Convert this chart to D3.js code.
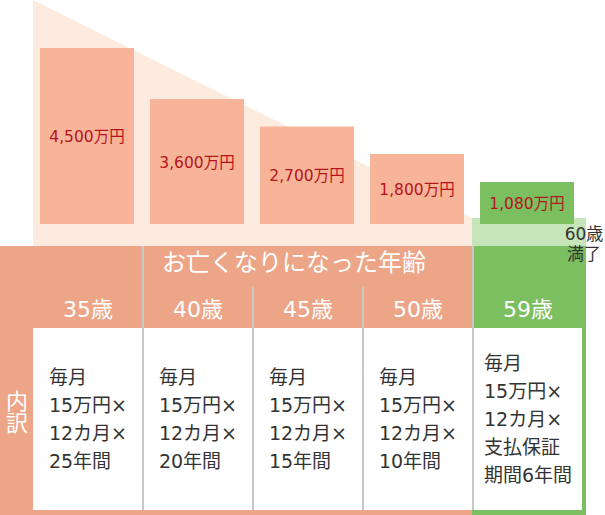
<!DOCTYPE html>
<meta charset="utf-8">
<script src="https://d3js.org/d3.v7.min.js"></script>
<style>
  body { margin: 0; background: #fff; }
  text { font-family: "DejaVu Sans", "Noto Sans CJK JP", sans-serif; }
</style>
<body>
<div id="chart"></div>
<script>
// data
var ages = ["35歳", "40歳", "45歳", "50歳", "59歳"];
var amounts = [4500, 3600, 2700, 1800, 1080];
var unit = "万円";
var details = [
  ["毎月", "15万円×", "12カ月×", "25年間"],
  ["毎月", "15万円×", "12カ月×", "20年間"],
  ["毎月", "15万円×", "12カ月×", "15年間"],
  ["毎月", "15万円×", "12カ月×", "10年間"],
  ["毎月", "15万円×", "12カ月×", "支払保証", "期間6年間"]
];
var title = "お亡くなりになった年齢";
var sideLabel = "内訳";
var endLabel = ["60歳", "満了"];

var width = 605, height = 515;
var salmon = "#eda588", barColor = "#f7b498", peach = "#fdebe0",
    green = "#7bbf60", lightGreen = "#c6e6b9", grid = "#c8c8c8";

var svg = d3.select("#chart").append("svg")
  .attr("width", width).attr("height", height);

// columns
var x = d3.scaleBand().domain(ages).range([32, 582]);
// bar heights are drawn schematically, not strictly proportional
var y = d3.scaleLinear().domain([0, 1800, 3600, 4500]).range([224, 154, 99, 48]);

var lastX = x(ages[4]);
var tableTop = 246, headBottom = 328, cellBottom = 510;

// background wedge
svg.append("path")
  .attr("d", d3.line()([[33, 0], [lastX, 218], [lastX, tableTop], [33, tableTop]]))
  .attr("fill", peach);
svg.append("rect")
  .attr("x", lastX).attr("y", 218)
  .attr("width", 586 - lastX).attr("height", tableTop - 218)
  .attr("fill", lightGreen);

// bars
svg.selectAll(".bar")
  .data(amounts)
  .enter().append("rect")
  .attr("x", function (d, i) { return x(ages[i]) + 8; })
  .attr("y", function (d) { return y(d); })
  .attr("width", x.bandwidth() - 16)
  .attr("height", function (d) { return y(0) - y(d); })
  .attr("fill", function (d, i) { return i == 4 ? green : barColor; });

svg.selectAll(".barLabel")
  .data(amounts)
  .enter().append("text")
  .attr("x", function (d, i) { return x(ages[i]) + x.bandwidth() / 2; })
  .attr("y", function (d) { return (y(d) + y(0)) / 2 + 1; })
  .attr("text-anchor", "middle")
  .attr("dominant-baseline", "central")
  .style("font-size", "15.5px")
  .style("fill", "#b3141e")
  .text(function (d) { return d3.format(",")(d) + unit; });

// table frame
svg.append("rect").attr("x", 0).attr("y", tableTop)
  .attr("width", lastX).attr("height", height - tableTop).attr("fill", salmon);
svg.append("rect").attr("x", lastX).attr("y", tableTop)
  .attr("width", 586 - lastX).attr("height", height - tableTop).attr("fill", green);
svg.append("rect").attr("x", 33).attr("y", headBottom)
  .attr("width", lastX - 33).attr("height", cellBottom - headBottom).attr("fill", "#fff");
svg.append("rect").attr("x", lastX).attr("y", headBottom)
  .attr("width", 582 - lastX).attr("height", cellBottom - headBottom).attr("fill", "#fff");

// dividers
svg.selectAll(".divider")
  .data(ages.slice(1))
  .enter().append("line")
  .attr("x1", function (d) { return x(d) + 1; })
  .attr("x2", function (d) { return x(d) + 1; })
  .attr("y1", function (d, i) { return (i == 0 || i == 3) ? tableTop : 287; })
  .attr("y2", cellBottom)
  .attr("stroke", grid)
  .attr("stroke-width", 2);

// end label (drawn over the table edge)
svg.append("text")
  .attr("text-anchor", "middle")
  .style("font-size", "17px")
  .style("fill", "#333")
  .selectAll("tspan")
  .data(endLabel)
  .enter().append("tspan")
  .attr("x", 584)
  .attr("y", function (d, i) { return 240 + i * 20; })
  .text(function (d) { return d; });

// header texts
svg.append("text")
  .attr("x", 294).attr("y", 263)
  .attr("text-anchor", "middle")
  .attr("dominant-baseline", "central")
  .style("font-size", "24px")
  .style("fill", "#fff")
  .text(title);

svg.selectAll(".age")
  .data(ages)
  .enter().append("text")
  .attr("x", function (d) { return x(d) + x.bandwidth() / 2 + 1; })
  .attr("y", 317)
  .attr("text-anchor", "middle")
  .style("font-size", "22px")
  .style("fill", "#fff")
  .text(function (d) { return d; });

svg.append("text")
  .attr("x", 17).attr("y", 412)
  .attr("text-anchor", "middle")
  .style("writing-mode", "vertical-rl")
  .style("font-family", "'Noto Sans CJK JP', sans-serif")
  .style("font-size", "22px")
  .style("fill", "#fff")
  .text(sideLabel);

// cell texts
var lineH = 28, midY = (headBottom + cellBottom) / 2;
var cells = svg.selectAll(".cell")
  .data(details)
  .enter().append("g");

cells.each(function (lines, i) {
  var g = d3.select(this);
  var t = g.selectAll("text")
    .data(lines)
    .enter().append("text")
    .attr("y", function (d, j) { return midY + (j - (lines.length - 1) / 2) * lineH; })
    .attr("dominant-baseline", "central")
    .style("font-size", "19px")
    .style("fill", "#333")
    .text(function (d) { return d; });
  var w = d3.max(t.nodes(), function (n) { return n.getComputedTextLength(); });
  var left = x(ages[i]) + 1 + (x.bandwidth() - w) / 2;
  t.attr("x", left);
});
</script>
</body>
